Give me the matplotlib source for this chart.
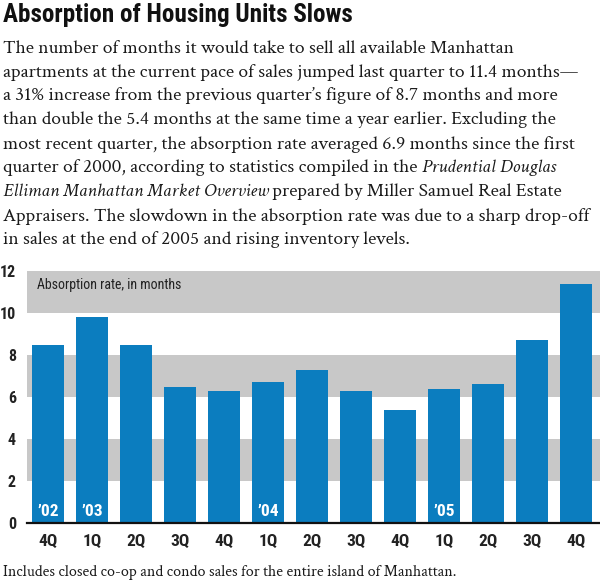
import matplotlib
matplotlib.use("Agg")
import matplotlib.pyplot as plt
from matplotlib.patches import Rectangle

quarters = ["4Q", "1Q", "2Q", "3Q", "4Q", "1Q", "2Q", "3Q", "4Q", "1Q", "2Q", "3Q", "4Q"]
values = [8.5, 9.8, 8.5, 6.5, 6.3, 6.7, 7.3, 6.3, 5.4, 6.4, 6.6, 8.7, 11.4]
year_labels = {0: "\u201902", 1: "\u201903", 5: "\u201904", 9: "\u201905"}
yticks = [0, 2, 4, 6, 8, 10, 12]
bands = [(2, 4), (6, 8), (10, 12)]

title = "Absorption of Housing Units Slows"
body = [
    [("The number of months it would take to sell all available Manhattan", "normal")],
    [("apartments at the current pace of sales jumped last quarter to 11.4 months\u2014", "normal")],
    [("a 31% increase from the previous quarter\u2019s figure of 8.7 months and more", "normal")],
    [("than double the 5.4 months at the same time a year earlier. Excluding the", "normal")],
    [("most recent quarter, the absorption rate averaged 6.9 months since the first", "normal")],
    [("quarter of 2000, according to statistics compiled in the ", "normal"), ("Prudential Douglas", "italic")],
    [("Elliman Manhattan Market Overview", "italic"), (" prepared by Miller Samuel Real Estate", "normal")],
    [("Appraisers. The slowdown in the absorption rate was due to a sharp drop-off", "normal")],
    [("in sales at the end of 2005 and rising inventory levels.", "normal")],
]
footnote = "Includes closed co-op and condo sales for the entire island of Manhattan."
band_label = "Absorption rate, in months"

BLUE = "#0b7dbf"
GRAY = "#c8c8c8"
SANS = ["Roboto Condensed", "Barlow Condensed", "DejaVu Sans"]
SERIF = ["Crimson Text", "Liberation Serif", "DejaVu Serif"]

W, H = 600, 580
fig = plt.figure(figsize=(6, 5.8), dpi=100)
fig.patch.set_facecolor("white")
fig.canvas.draw()
renderer = fig.canvas.get_renderer()


def fit_text(x, y, s, target_w, size, **kw):
    t = fig.text(x / W, 1 - y / H, s, fontsize=size, **kw)
    w = t.get_window_extent(renderer).width
    t.set_fontsize(size * target_w / w)
    return t


# Title
fit_text(3, 15, title, 350, 20, fontweight="bold", family=SANS, va="center", ha="left",
         color="#111111")

# Body text: calibrate size on the longest line
probe = fig.text(0, 0, body[1][0][0], fontsize=14, family=SERIF)
bsize = 14 * 577 / probe.get_window_extent(renderer).width
probe.remove()
y0 = 48
for i, segs in enumerate(body):
    x = 3
    y = 1 - (y0 + i * 24) / H
    for s, style in segs:
        t = fig.text(x / W, y, s, fontsize=bsize, family=SERIF, style=style,
                     va="center", ha="left", color="#1a1a1a")
        x += t.get_window_extent(renderer).width

# Axes
ax = fig.add_axes([27 / W, 1 - 523 / H, 1 - 27 / W, (523 - 271) / H])
ax.set_xlim(-0.477, 12.545)
ax.set_ylim(0, 12)
for lo, hi in bands:
    ax.add_patch(Rectangle((-0.477, lo), 13.1, hi - lo, color=GRAY, lw=0, zorder=0))
xs = list(range(len(values)))
ax.bar(xs, values, width=0.72, color=BLUE, zorder=2)
ax.axhline(0, color="#111111", lw=1.6, zorder=3, clip_on=False)
for k, lab in year_labels.items():
    ax.text(k, 0.2, lab, ha="center", va="bottom", color="white", fontsize=12.5,
            fontweight="bold", family=SANS, zorder=4)
ax.text((37 - 27) / 44 - 0.477, 11.35, band_label, ha="left", va="center",
        fontsize=10, family=SANS, color="#222222")
for sp in ax.spines.values():
    sp.set_visible(False)
ax.set_xticks(xs)
ax.set_xticklabels(quarters, fontsize=12.5, fontweight="bold", family=SANS, color="#222222")
ax.set_yticks(yticks)
ax.set_yticklabels([str(v) for v in yticks], fontsize=11.5, fontweight="bold",
                   family=SANS, color="#222222")
ax.tick_params(axis="both", length=0)
ax.tick_params(axis="y", pad=8)
ax.tick_params(axis="x", pad=8)

fit_text(3, 572, footnote, 449, 11, family=SERIF, va="center", ha="left", color="#1a1a1a")

fig.savefig("out.png", dpi=100, facecolor="white")
